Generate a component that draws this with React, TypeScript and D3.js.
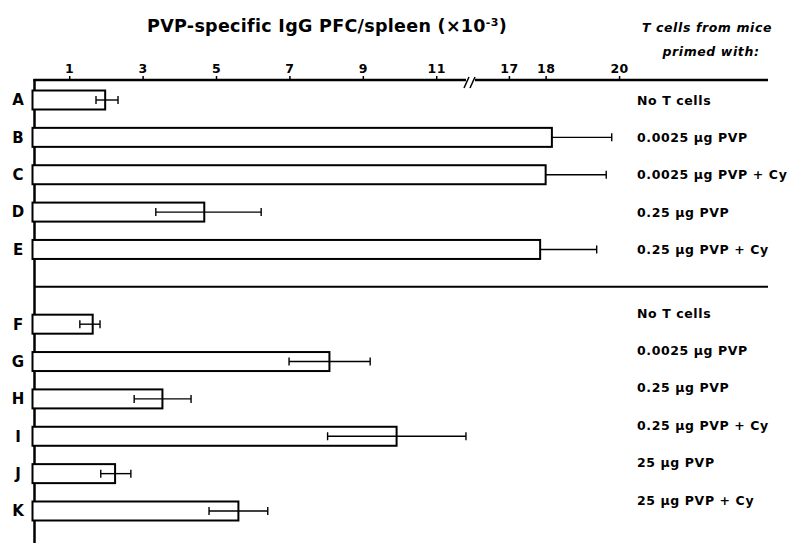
import * as d3 from 'd3';
import { useEffect, useRef } from 'react';

// rows, top group then bottom group ("gap" is the empty slot holding the divider)
const rows = ['A', 'B', 'C', 'D', 'E', 'gap', 'F', 'G', 'H', 'I', 'J', 'K'];
const groupTop = ['A', 'B', 'C', 'D', 'E'];
const groupBottom = ['F', 'G', 'H', 'I', 'J', 'K'];

// PFC/spleen x10^-3
const means = [1.98, 18.17, 18.0, 4.68, 17.85, 1.64, 8.09, 3.54, 9.92, 2.25, 5.61];
const errLow = [1.73, null, null, 3.36, null, 1.29, 6.99, 2.77, 8.04, 1.86, 4.81];
const errHigh = [2.33, 19.8, 19.65, 6.23, 19.39, 1.84, 9.2, 4.32, 11.81, 2.68, 6.41];

const primedWith = [
  'No T cells', '0.0025 µg PVP', '0.0025 µg PVP + Cy', '0.25 µg PVP', '0.25 µg PVP + Cy',
  'No T cells', '0.0025 µg PVP', '0.25 µg PVP', '0.25 µg PVP + Cy', '25 µg PVP', '25 µg PVP + Cy',
];

const tickValues = [1, 3, 5, 7, 9, 11, 17, 18, 20];

const FONT = '"DejaVu Sans", Verdana, sans-serif';

export default function App() {
  const ref = useRef<SVGSVGElement>(null);

  useEffect(() => {
    const svg = d3.select(ref.current);
    svg.selectAll('*').remove();

    const width = 795, height = 543;
    const axisY = 80, axisLeft = 34.5, axisRight = 768, breakX = 470;

    // broken axis: 0..11.92 then jumps to 15.94..21
    const x = d3.scaleLinear()
      .domain([0, 11.92, 15.94, 21])
      .range([32.5, breakX, breakX, 655.8]);

    const y = d3.scalePoint().domain(rows).range([100, 511]);
    const barH = 19;

    const labels = [...groupTop, ...groupBottom];
    const data = labels.map((k, i) => ({
      key: k, mean: means[i], lo: errLow[i], hi: errHigh[i], text: primedWith[i],
      bottom: groupBottom.includes(k),
    }));

    svg.attr('width', width).attr('height', height);

    // title
    const title = svg.append('text')
      .attr('x', 327).attr('y', 32)
      .attr('text-anchor', 'middle')
      .style('font-family', FONT).style('font-weight', 'bold').style('font-size', '17.5px')
      .style('letter-spacing', '0.3px')
      .text('PVP-specific IgG PFC/spleen (×10');
    title.append('tspan').attr('baseline-shift', 'super').style('font-size', '11px').text('-3');
    title.append('tspan').text(')');

    // header for right labels
    const head = svg.append('g')
      .style('font-family', FONT).style('font-weight', 'bold').style('font-style', 'italic')
      .style('font-size', '12.5px').style('letter-spacing', '0.6px').attr('text-anchor', 'middle');
    head.append('text').attr('x', 707).attr('y', 32).text('T cells from mice');
    head.append('text').attr('x', 711).attr('y', 56).text('primed with:');

    // top axis
    const ax = svg.append('g')
      .attr('transform', `translate(0,${axisY})`)
      .call(d3.axisTop(x).tickValues(tickValues).tickSize(4).tickSizeOuter(0).tickFormat(d3.format('d')));
    ax.select('.domain').remove();
    ax.selectAll('line').attr('stroke', '#000').attr('stroke-width', 1.5);
    ax.selectAll('text')
      .attr('fill', '#000')
      .style('font-family', FONT).style('font-weight', 'bold').style('font-size', '12.5px')
      .style('letter-spacing', '0.5px');

    const lines = svg.append('g').attr('stroke', '#000').attr('fill', 'none');
    lines.append('line').attr('x1', axisLeft - 1).attr('x2', breakX - 4)
      .attr('y1', axisY).attr('y2', axisY).attr('stroke-width', 2.5);
    lines.append('line').attr('x1', breakX + 5).attr('x2', axisRight)
      .attr('y1', axisY).attr('y2', axisY).attr('stroke-width', 2.5);
    [0, 6].forEach(o => {
      lines.append('line')
        .attr('x1', breakX - 6 + o).attr('y1', axisY + 8)
        .attr('x2', breakX - 1 + o).attr('y2', axisY - 3)
        .attr('stroke-width', 1.5);
    });
    lines.append('line').attr('x1', axisLeft).attr('x2', axisLeft)
      .attr('y1', axisY - 1).attr('y2', height).attr('stroke-width', 2.5);
    lines.append('line').attr('x1', axisLeft).attr('x2', axisRight)
      .attr('y1', y('gap')!).attr('y2', y('gap')!).attr('stroke-width', 2);

    // row letters
    svg.append('g').selectAll('text').data(data).enter().append('text')
      .attr('x', 18).attr('y', d => y(d.key)!)
      .attr('dy', '0.36em').attr('text-anchor', 'middle')
      .style('font-family', FONT).style('font-weight', 'bold').style('font-size', '15px')
      .text(d => d.key);

    // bars
    svg.append('g').selectAll('rect').data(data).enter().append('rect')
      .attr('x', x(0))
      .attr('y', d => y(d.key)! - barH / 2)
      .attr('width', d => x(d.mean) - x(0))
      .attr('height', barH)
      .attr('fill', '#fff').attr('stroke', '#000').attr('stroke-width', 2);

    // error bars
    const eb = svg.append('g').attr('stroke', '#000').attr('stroke-width', 1.4);
    data.forEach(d => {
      const cy = y(d.key)!;
      const x0 = d.lo == null ? x(d.mean) : x(d.lo);
      eb.append('line').attr('x1', x0).attr('x2', x(d.hi)).attr('y1', cy).attr('y2', cy);
      eb.append('line').attr('x1', x(d.hi)).attr('x2', x(d.hi)).attr('y1', cy - 4).attr('y2', cy + 4);
      if (d.lo != null) {
        eb.append('line').attr('x1', x(d.lo)).attr('x2', x(d.lo)).attr('y1', cy - 4).attr('y2', cy + 4);
      }
    });

    // right-hand labels
    svg.append('g').selectAll('text').data(data).enter().append('text')
      .attr('x', 637)
      .attr('y', d => y(d.key)! + (d.bottom ? -11 : 0))
      .attr('dy', '0.36em')
      .style('font-family', FONT).style('font-weight', 'bold').style('font-size', '12.5px')
      .style('letter-spacing', '0.6px')
      .text(d => d.text);
  }, []);

  return <svg ref={ref} style={{ position: 'absolute', left: 0, top: 0 }}></svg>;
}
